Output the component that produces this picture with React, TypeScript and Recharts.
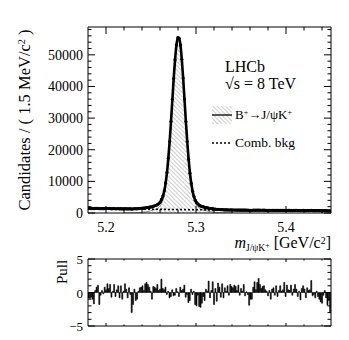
import React from "react";
import { ComposedChart, Line, Area, Scatter, Bar, XAxis, YAxis } from "recharts";

const SERIF = '"Liberation Serif", "Times New Roman", serif';

// binning of the mass histogram (GeV/c^2)
const binLow = 5.18;
const binWidth = 0.0015;

const dataCounts = [
  1420, 1411, 1412, 1396, 1363, 1434, 1447, 1453, 1339, 1386,
  1406, 1383, 1414, 1394, 1421, 1390, 1406, 1331, 1358, 1390,
  1318, 1350, 1365, 1295, 1354, 1277, 1324, 1362, 1331, 1285,
  1339, 1307, 1213, 1264, 1358, 1310, 1334, 1400, 1446, 1483,
  1531, 1551, 1644, 1716, 1775, 1841, 1906, 1955, 2157, 2292,
  2454, 2710, 2983, 3475, 4311, 5348, 7031, 9518, 12781, 17270,
  22590, 28955, 35953, 42509, 48460, 53143, 55414, 55245, 53175, 48592,
  42683, 36045, 28888, 22608, 16978, 12602, 9399, 6875, 5209, 3949,
  3202, 2808, 2395, 2162, 2014, 1914, 1763, 1723, 1610, 1577,
  1401, 1370, 1354, 1177, 1212, 1105, 1159, 1107, 1031, 1073,
  986, 1016, 987, 999, 947, 986, 970, 956, 955, 945,
  924, 944, 896, 922, 907, 933, 879, 893, 878, 827,
  850, 847, 898, 918, 880, 909, 924, 894, 874, 879,
  879, 859, 850, 826, 847, 806, 846, 849, 815, 852,
  803, 827, 844, 819, 821, 851, 788, 834, 811, 806,
  826, 782, 804, 822, 799, 766, 786, 747, 792, 801,
  784, 746, 785, 772, 773, 810, 744, 748, 732, 757,
  733, 720, 707, 699, 730, 747, 715, 683, 701, 650,
];

const fitTotal = [
  1450, 1445, 1439, 1434, 1428, 1423, 1417, 1412, 1406, 1401,
  1395, 1390, 1384, 1379, 1373, 1368, 1362, 1357, 1351, 1346,
  1340, 1335, 1329, 1324, 1318, 1313, 1317, 1315, 1313, 1314,
  1314, 1318, 1322, 1330, 1340, 1354, 1371, 1393, 1420, 1453,
  1492, 1539, 1592, 1655, 1725, 1807, 1897, 2000, 2116, 2254,
  2424, 2648, 2967, 3446, 4182, 5304, 6998, 9440, 12815, 17244,
  22711, 29057, 35877, 42612, 48548, 53005, 55390, 55386, 52991, 48526,
  42580, 35837, 29007, 22653, 17175, 12737, 9351, 6900, 5195, 4064,
  3317, 2829, 2500, 2267, 2087, 1940, 1814, 1702, 1602, 1511,
  1431, 1359, 1296, 1240, 1191, 1149, 1112, 1081, 1054, 1031,
  1011, 994, 981, 968, 959, 949, 942, 935, 922, 918,
  915, 911, 908, 904, 901, 897, 894, 890, 887, 883,
  880, 877, 874, 871, 868, 865, 862, 859, 856, 853,
  850, 847, 844, 841, 838, 835, 832, 829, 826, 823,
  820, 818, 815, 813, 810, 808, 805, 803, 800, 798,
  795, 793, 790, 788, 785, 783, 780, 778, 775, 773,
  770, 768, 766, 764, 762, 760, 758, 756, 754, 752,
  749, 747, 745, 743, 741, 739, 737, 735, 733, 731,
];

// signal component, defined from bin 26 to bin 107
const signalStartBin = 26;
const signalFit = [
  10, 13, 17, 23, 29, 38, 48, 61, 77, 96,
  119, 146, 179, 217, 262, 314, 373, 441, 517, 604,
  700, 808, 930, 1073, 1249, 1478, 1803, 2287, 3029, 4156,
  5856, 8303, 11684, 16118, 21591, 27941, 34766, 41505, 47446, 51907,
  54297, 54297, 51907, 47446, 41505, 34766, 27941, 21591, 16118, 11684,
  8303, 5856, 4156, 3029, 2287, 1803, 1478, 1249, 1073, 930,
  808, 700, 604, 517, 441, 373, 314, 262, 217, 179,
  146, 119, 96, 77, 61, 48, 38, 29, 23, 17,
  13, 10,
];

// combinatorial background
const bkgMass = [5.18, 5.21, 5.24, 5.27, 5.3, 5.33, 5.36, 5.39, 5.42, 5.45];
const bkgLevel = [1453, 1343, 1233, 1123, 1032, 952, 881, 822, 771, 730];

const pulls = [
  -0.8, -0.9, -0.7, -1.0, -1.7, 0.3, 0.8, 1.1, -1.8, -0.4,
  0.3, -0.2, 0.8, 0.4, 1.3, 0.6, 1.2, -0.7, 0.2, 1.2,
  -0.6, 0.4, 1.0, -0.8, 1.0, -1.0, 0.2, 1.3, 0.5, -0.8,
  0.7, -0.3, -3.0, -1.8, 0.5, -1.2, -1.0, 0.2, 0.7, 0.8,
  1.0, 0.3, 1.3, 1.5, 1.2, 0.8, 0.2, -1.0, 0.9, 0.8,
  0.6, 1.2, 0.3, 0.5, 2.0, 0.6, 0.4, 0.8, -0.3, 0.2,
  -0.8, -0.6, 0.4, -0.5, -0.4, 0.6, 0.1, -0.6, 0.8, 0.3,
  0.5, 1.1, -0.7, -0.3, -1.5, -1.2, 0.5, -0.3, 0.2, -1.8,
  -2.0, -0.4, -2.1, -2.2, -1.6, -0.6, -1.2, 0.5, 0.2, 1.7,
  -0.8, 0.3, 1.6, -1.8, 0.6, -1.3, 1.4, 0.8, -0.7, 1.3,
  -0.8, 0.7, 0.2, 1.0, -0.4, 1.2, 0.9, 0.7, 1.1, 0.9,
  0.3, 1.1, -0.4, 0.6, 0.2, 1.2, -0.5, 0.1, -0.3, -1.9,
  -1.0, -1.0, 0.8, 1.6, 0.4, 1.5, 2.1, 1.2, 0.6, 0.9,
  1.0, 0.4, 0.2, -0.5, 0.3, -1.0, 0.5, 0.7, -0.4, 1.0,
  -0.6, 0.3, 1.0, 0.2, 0.4, 1.5, -0.6, 1.1, 0.4, 0.3,
  1.1, -0.4, 0.5, 1.2, 0.5, -0.6, 0.2, -1.1, 0.6, 1.0,
  0.5, -0.8, 0.7, 0.3, 0.4, 1.8, -0.5, -0.3, -0.8, 0.2,
  -0.6, -1.0, -1.4, -1.6, -0.4, 0.3, -0.8, -1.9, -1.2, -3.0,
];

const xMajor = [5.2, 5.3, 5.4];
const xMinor = [5.22, 5.24, 5.26, 5.28, 5.32, 5.34, 5.36, 5.38, 5.42, 5.44];
const yMajor = [0, 10000, 20000, 30000, 40000, 50000];
const yMinorStep = 2000;
const yMax = 58800;
const pullMajor = [-5, 0, 5];
const pullLabels = ["\u22125", "0", "5"];
const pullMinorStep = 1;

const xTicks = [...xMajor, ...xMinor].sort((a, b) => a - b);
const yTicks: number[] = [];
for (let v = 0; v <= yMax; v += yMinorStep) yTicks.push(v);
const pullTicks: number[] = [];
for (let v = -5; v <= 5; v += pullMinorStep) pullTicks.push(v);

const rows = dataCounts.map((n, i) => {
  const s = i - signalStartBin;
  return {
    m: binLow + binWidth * (i + 0.5),
    data: n,
    fit: fitTotal[i],
    sig: s >= 0 && s < signalFit.length ? signalFit[s] : null,
  };
});
const pullRows = pulls.map((p, i) => ({ m: binLow + binWidth * (i + 0.5), pull: p }));
const bkgRows = bkgMass.map((m, i) => ({ m, bkg: bkgLevel[i] }));

const isIn = (list: number[], v: number) => list.some((t) => Math.abs(t - v) < 1e-6);

// ROOT-like ticks: pointing into the frame, labels outside
const xTick = (dir: number, major: number, minor: number, label: boolean) => (p: any) => {
  const v = p.payload.value;
  const big = isIn(xMajor, v);
  return (
    <g>
      <line x1={p.x} x2={p.x} y1={p.y} y2={p.y + dir * (big ? major : minor)} stroke="#000" />
      {label && big && (
        <text x={p.x} y={p.y + 19} textAnchor="middle" fontSize={14} fontFamily={SERIF} fill="#000">
          {String(v)}
        </text>
      )}
    </g>
  );
};

const yTick = (dir: number, majors: number[], major: number, minor: number, labels?: string[], fs = 14) => (p: any) => {
  const v = p.payload.value;
  const idx = majors.findIndex((t) => Math.abs(t - v) < 1e-6);
  const big = idx >= 0;
  return (
    <g>
      <line x1={p.x} x2={p.x + dir * (big ? major : minor)} y1={p.y} y2={p.y} stroke="#000" />
      {labels && big && (
        <text x={p.x - 5} y={p.y + 5} textAnchor="end" fontSize={fs} fontFamily={SERIF} fill="#000">
          {labels[idx]}
        </text>
      )}
    </g>
  );
};

const frame = { stroke: "#000", strokeWidth: 1 };

// axes are 1px thick (recharts skips zero-sized axes), margins take the rest
const MainPlot = () => (
  <ComposedChart width={349} height={250} data={rows} margin={{ top: 26, right: 17, bottom: 36, left: 87 }}>
    <defs>
      <pattern id="hatch" patternUnits="userSpaceOnUse" width={3} height={3} patternTransform="rotate(-45)">
        <line x1={0} y1={0} x2={0} y2={3} stroke="#9a9a9a" strokeWidth={1} />
      </pattern>
    </defs>
    <XAxis type="number" dataKey="m" domain={[5.18, 5.45]} allowDataOverflow ticks={xTicks} interval={0}
      height={1} tickSize={0} tickMargin={0} tickLine={false} axisLine={frame} tick={xTick(-1, 7, 3.5, true)} />
    <XAxis xAxisId="top" orientation="top" type="number" dataKey="m" domain={[5.18, 5.45]} allowDataOverflow
      ticks={xTicks} interval={0} height={1} tickSize={0} tickMargin={0} tickLine={false} axisLine={frame}
      tick={xTick(1, 7, 3.5, false)} />
    <YAxis type="number" domain={[0, yMax]} allowDataOverflow ticks={yTicks} interval={0} width={1}
      tickSize={0} tickMargin={0} tickLine={false} axisLine={frame}
      tick={yTick(1, yMajor, 7, 3.5, yMajor.map(String))} />
    <YAxis yAxisId="right" orientation="right" type="number" domain={[0, yMax]} allowDataOverflow ticks={yTicks}
      interval={0} width={1} tickSize={0} tickMargin={0} tickLine={false} axisLine={frame}
      tick={yTick(-1, yMajor, 7, 3.5)} />
    <Area type="monotone" dataKey="sig" stroke="#8a8a8a" strokeWidth={1} fill="url(#hatch)" fillOpacity={1}
      isAnimationActive={false} />
    <Line data={bkgRows} type="monotone" dataKey="bkg" stroke="#000" strokeWidth={1.6} strokeDasharray="2 2"
      dot={false} isAnimationActive={false} />
    <Line type="monotone" dataKey="fit" stroke="#000" strokeWidth={2.6} dot={false} isAnimationActive={false} />
    <Scatter dataKey="data" fill="#000" isAnimationActive={false}
      shape={(p: any) => <circle cx={p.cx} cy={p.cy} r={1.6} fill="#000" />} />
  </ComposedChart>
);

const PullPlot = () => (
  <ComposedChart width={349} height={90} data={pullRows} margin={{ top: 8, right: 17, bottom: 13, left: 87 }}
    barCategoryGap={0} barGap={0}>
    <XAxis type="number" dataKey="m" domain={[5.18, 5.45]} allowDataOverflow ticks={xTicks} interval={0}
      height={1} tickSize={0} tickMargin={0} tickLine={false} axisLine={frame} tick={xTick(-1, 3, 1.5, false)} />
    <XAxis xAxisId="top" orientation="top" type="number" dataKey="m" domain={[5.18, 5.45]} allowDataOverflow
      ticks={xTicks} interval={0} height={1} tickSize={0} tickMargin={0} tickLine={false} axisLine={frame}
      tick={xTick(1, 3, 1.5, false)} />
    <YAxis type="number" domain={[-5, 5]} allowDataOverflow ticks={pullTicks} interval={0} width={1}
      tickSize={0} tickMargin={0} tickLine={false} axisLine={frame}
      tick={yTick(1, pullMajor, 7, 3.5, pullLabels, 13)} />
    <YAxis yAxisId="right" orientation="right" type="number" domain={[-5, 5]} allowDataOverflow ticks={pullTicks}
      interval={0} width={1} tickSize={0} tickMargin={0} tickLine={false} axisLine={frame}
      tick={yTick(-1, pullMajor, 7, 3.5)} />
    <Bar dataKey="pull" fill="#000" stroke="#000" strokeWidth={0.6} isAnimationActive={false} />
  </ComposedChart>
);

const abs = (left: number, top: number, extra: React.CSSProperties = {}): React.CSSProperties => ({
  position: "absolute",
  left,
  top,
  whiteSpace: "nowrap",
  lineHeight: 1,
  ...extra,
});

const sup: React.CSSProperties = { fontSize: "0.62em", position: "relative", top: "-0.45em" };
const sub: React.CSSProperties = { fontSize: "0.6em", position: "relative", top: "0.35em" };

export default function App() {
  return (
    <div style={{ position: "absolute", left: 0, top: 0, width: 349, height: 340, background: "#fff",
      fontFamily: SERIF, color: "#000" }}>
      <div style={{ position: "absolute", left: 0, top: 0 }}>
        <MainPlot />
      </div>
      <div style={{ position: "absolute", left: 0, top: 250 }}>
        <PullPlot />
      </div>

      {/* axis titles */}
      <div style={abs(25, 120, { fontSize: 16.5, transform: "translate(-50%, -50%) rotate(-90deg)" })}>
        Candidates / ( 1.5 MeV/c<span style={sup}>2</span> )
      </div>
      <div style={abs(62, 272, { fontSize: 15, transform: "translate(-50%, -50%) rotate(-90deg)" })}>Pull</div>
      <div style={{ ...abs(0, 235, { fontSize: 16 }), left: "auto", right: 18 }}>
        <i>m</i>
        <span style={sub}>
          J/ψK<span style={{ fontSize: "0.8em", position: "relative", top: "-0.5em" }}>+</span>
        </span>{" "}
        [GeV/c<span style={sup}>2</span>]
      </div>

      {/* LHCb label */}
      <div style={abs(225, 59, { fontSize: 16 })}>LHCb</div>
      <div style={abs(225, 76, { fontSize: 16 })}>√s = 8 TeV</div>

      {/* legend */}
      <svg style={{ position: "absolute", left: 210, top: 104 }} width={26} height={44}>
        <defs>
          <pattern id="hatchLeg" patternUnits="userSpaceOnUse" width={3} height={3} patternTransform="rotate(-45)">
            <line x1={0} y1={0} x2={0} y2={3} stroke="#9a9a9a" strokeWidth={1} />
          </pattern>
        </defs>
        <rect x={2} y={2} width={20} height={18} fill="url(#hatchLeg)" />
        <line x1={2} x2={22} y1={11} y2={11} stroke="#222" strokeWidth={1.5} />
        <line x1={2} x2={22} y1={39} y2={39} stroke="#000" strokeWidth={1.6} strokeDasharray="2 2" />
      </svg>
      <div style={abs(235, 108, { fontSize: 13 })}>
        B<span style={sup}>+</span>→J/ψK<span style={sup}>+</span>
      </div>
      <div style={abs(235, 136, { fontSize: 13.5 })}>Comb. bkg</div>
    </div>
  );
}
